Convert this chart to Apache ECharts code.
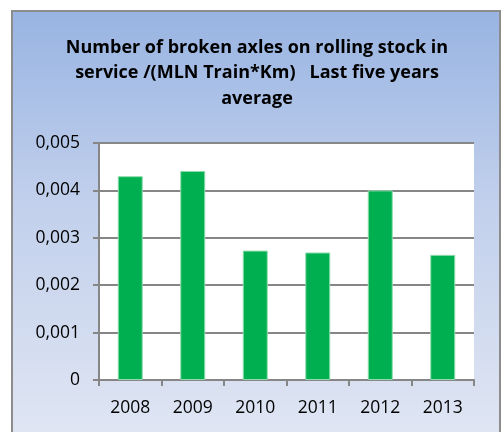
<!DOCTYPE html>
<html>
<head>
<meta charset="utf-8">
<script src="https://cdn.jsdelivr.net/npm/echarts@6/dist/echarts.min.js"></script>
<style>
  html, body { margin: 0; padding: 0; background: #ffffff; }
  #chart { width: 503px; height: 432px; }
</style>
</head>
<body>
<div id="chart"></div>
<script>
// Broken axles per million train-km, by year
const years = ['2008', '2009', '2010', '2011', '2012', '2013'];
const brokenAxles = [0.0043, 0.00441, 0.00273, 0.00269, 0.0040, 0.00264];
const yTicks = [0, 0.001, 0.002, 0.003, 0.004, 0.005];

const titleText = 'Number of broken axles on rolling stock in\nservice /(MLN Train*Km)   Last five years\naverage';
const fontFamily = '"Open Sans", sans-serif';

const chart = echarts.init(document.getElementById('chart'), null, { renderer: 'canvas' });

chart.setOption({
  animation: false,
  backgroundColor: '#ffffff',
  graphic: [{
    type: 'rect',
    z: -10,
    silent: true,
    shape: { x: 12, y: 11, width: 488, height: 430 },
    style: {
      fill: new echarts.graphic.LinearGradient(0, 0, 0, 1, [
        { offset: 0, color: '#98b4e2' },
        { offset: 0.45, color: '#c2d0ec' },
        { offset: 1, color: '#e0e6f3' }
      ]),
      stroke: '#8c8c8c',
      lineWidth: 2
    }
  }],
  title: {
    text: titleText,
    left: 257,
    textAlign: 'center',
    top: 35,
    padding: 0,
    textStyle: {
      fontFamily: fontFamily,
      fontWeight: 'bold',
      fontSize: 18,
      lineHeight: 25.5,
      color: '#000000'
    }
  },
  grid: {
    left: 99,
    top: 143,
    right: 29,
    bottom: 52,
    show: true,
    backgroundColor: '#ffffff',
    borderWidth: 0
  },
  xAxis: {
    type: 'category',
    data: years,
    axisLine: { lineStyle: { color: '#868686', width: 2 } },
    axisTick: { show: true, length: 6, lineStyle: { color: '#868686', width: 2 } },
    axisLabel: {
      color: '#000000',
      fontFamily: fontFamily,
      fontSize: 17.5,
      margin: 19
    }
  },
  yAxis: {
    type: 'value',
    min: yTicks[0],
    max: yTicks[yTicks.length - 1],
    interval: 0.001,
    axisLine: { show: true, lineStyle: { color: '#868686', width: 2 } },
    axisTick: { show: true, length: 6, lineStyle: { color: '#868686', width: 2 } },
    splitLine: { lineStyle: { color: '#868686', width: 2 } },
    axisLabel: {
      color: '#000000',
      fontFamily: fontFamily,
      fontSize: 17.5,
      margin: 19,
      formatter: function (v) {
        return v === 0 ? '0' : v.toFixed(3).replace('.', ',');
      }
    }
  },
  series: [{
    type: 'bar',
    data: brokenAxles,
    barWidth: '40%',
    itemStyle: {
      color: '#00b050',
      borderColor: '#8fdcae',
      borderWidth: 1
    }
  }]
});
</script>
</body>
</html>
